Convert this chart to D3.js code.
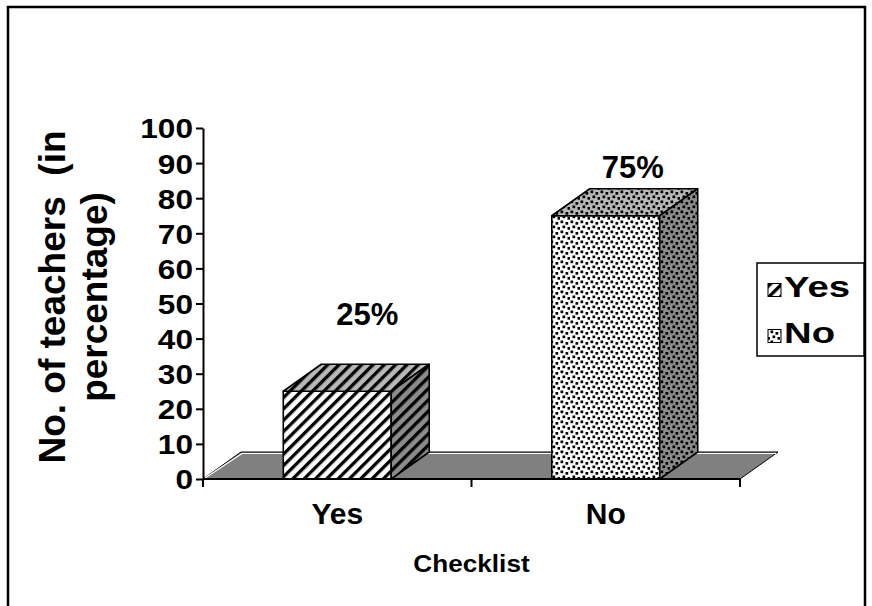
<!DOCTYPE html>
<html><head><meta charset="utf-8">
<script src="https://cdn.jsdelivr.net/npm/d3@7"></script>
<style>
body{margin:0;background:#fff}
svg{display:block}
text{font-family:"Liberation Sans",Arial,sans-serif;font-weight:bold;fill:#000}
</style>
</head><body>
<svg id="c" width="872" height="606"></svg>
<script>
// ---------------- data ----------------
const categories = ["Yes", "No"];
const values = [25, 75];
const valueLabels = ["25%", "75%"];
const yTickValues = [0, 10, 20, 30, 40, 50, 60, 70, 80, 90, 100];
const legendLabels = ["Yes", "No"];
const xTitle = "Checklist";
const yTitleLines = ["No. of teachers  (in", "percentage)"];

// ---------------- layout / style ----------------
const svg = d3.select("#c");
const plot = {left: 203, right: 740, bottom: 479, top: 128};
const depth = {dx: 38, dy: -27};
const labelShift = [{dx: 30, dy: -66}, {dx: 27, dy: -38}];
const patterns = ["url(#stripe)", "url(#dots)"];

const y = d3.scaleLinear().domain([0, 100]).range([plot.bottom, plot.top]);
const x = d3.scaleBand().domain(categories).range([plot.left, plot.right])
  .paddingInner(0.598).paddingOuter(0.299);

function stext(g, px, py, str, fs, sx, anchor) {
  return g.append("text")
    .attr("transform", `translate(${px},${py}) scale(${sx},1)`)
    .attr("text-anchor", anchor || "start")
    .attr("font-size", fs)
    .style("white-space", "pre")
    .text(str);
}

// ---------------- defs ----------------
const defs = svg.append("defs");
const ps = defs.append("pattern").attr("id", "stripe").attr("patternUnits", "userSpaceOnUse")
  .attr("width", 8).attr("height", 8).attr("patternTransform", "rotate(45)");
ps.append("rect").attr("width", 8).attr("height", 8).attr("fill", "#fff");
ps.append("rect").attr("width", 3.3).attr("height", 8).attr("fill", "#000");

const pd = defs.append("pattern").attr("id", "dots").attr("patternUnits", "userSpaceOnUse")
  .attr("width", 10).attr("height", 10);
pd.append("rect").attr("width", 10).attr("height", 10).attr("fill", "#fff");
[[0.5, 0.5], [5.5, 2], [2.5, 5.5], [7.5, 7]].forEach(p =>
  pd.append("rect").attr("x", p[0]).attr("y", p[1]).attr("width", 2.7).attr("height", 2.7).attr("fill", "#000"));

// ---------------- frame ----------------
svg.append("rect").attr("x", 8).attr("y", 7).attr("width", 857).attr("height", 640)
  .attr("fill", "none").attr("stroke", "#000").attr("stroke-width", 2.5);

// ---------------- floor ----------------
const y0 = y(0);
const floorPts = [[plot.left, y0], [plot.right, y0],
  [plot.right + depth.dx, y0 + depth.dy], [plot.left + depth.dx, y0 + depth.dy]];
svg.append("polygon").attr("points", floorPts.map(p => p.join(",")).join(" "))
  .attr("fill", "#808080").attr("stroke", "#000").attr("stroke-width", 1);
svg.append("polyline")
  .attr("points", [[plot.left + 2, y0 - 1], [plot.left + depth.dx + 1, y0 + depth.dy + 1.5], [plot.right + depth.dx - 2, y0 + depth.dy + 1.5]].map(p => p.join(",")).join(" "))
  .attr("fill", "none").attr("stroke", "#fff").attr("stroke-width", 1.2);

// ---------------- bars ----------------
const bars = svg.append("g");
categories.forEach((c, i) => {
  const x0 = x(c), x1 = x(c) + x.bandwidth(), yv = y(values[i]);
  const g = bars.append("g");
  const front = [[x0, yv], [x1, yv], [x1, y0], [x0, y0]];
  const top = [[x0, yv], [x0 + depth.dx, yv + depth.dy], [x1 + depth.dx, yv + depth.dy], [x1, yv]];
  const side = [[x1, yv], [x1 + depth.dx, yv + depth.dy], [x1 + depth.dx, y0 + depth.dy], [x1, y0]];
  [[front, 0], [top, 0.28], [side, 0.45]].forEach(([pts, shade]) => {
    const s = pts.map(p => p.join(",")).join(" ");
    g.append("polygon").attr("points", s).attr("fill", patterns[i]);
    if (shade > 0) g.append("polygon").attr("points", s).attr("fill", "#000").attr("fill-opacity", shade);
    g.append("polygon").attr("points", s).attr("fill", "none").attr("stroke", "#000")
      .attr("stroke-width", 1.6).attr("stroke-linejoin", "round");
  });
  stext(svg, x0 + x.bandwidth() / 2 + labelShift[i].dx, yv + labelShift[i].dy, valueLabels[i], 31, 1, "middle");
});

// ---------------- axes ----------------
const yAxis = svg.append("g").attr("transform", `translate(${plot.left},0)`)
  .call(d3.axisLeft(y).tickValues(yTickValues).tickSize(7).tickSizeOuter(0).tickPadding(3));
yAxis.attr("font-family", null).attr("font-size", null);
yAxis.select(".domain").attr("stroke", "#000").attr("stroke-width", 2);
yAxis.selectAll(".tick line").attr("stroke", "#000").attr("stroke-width", 2);
const tsx = 1.17;
yAxis.selectAll(".tick text")
  .attr("font-size", 27)
  .attr("x", -10 / tsx).attr("dy", "0.37em")
  .attr("transform", `scale(${tsx},1)`);

// category axis line & ticks
const step = x.step();
svg.append("line").attr("x1", plot.left).attr("x2", plot.right).attr("y1", y0).attr("y2", y0)
  .attr("stroke", "#000").attr("stroke-width", 2.2);
d3.range(categories.length + 1).forEach(k => {
  const tx = plot.left + k * step;
  svg.append("line").attr("x1", tx).attr("x2", tx).attr("y1", y0).attr("y2", y0 + 8)
    .attr("stroke", "#000").attr("stroke-width", 2);
});
categories.forEach(c => stext(svg, x(c) + x.bandwidth() / 2, 524, c, 30, 1, "middle"));

// titles
stext(svg, (plot.left + plot.right) / 2, 572, xTitle, 24, 1.09, "middle");
yTitleLines.forEach((t, i) => {
  svg.append("text").attr("transform", `translate(${65 + i * 42},297) rotate(-90)`)
    .attr("text-anchor", "middle").attr("font-size", 37).style("white-space", "pre").text(t);
});

// ---------------- legend ----------------
const lg = svg.append("g");
lg.append("rect").attr("x", 757).attr("y", 263).attr("width", 107).attr("height", 93)
  .attr("fill", "#fff").attr("stroke", "#000").attr("stroke-width", 1.5);
legendLabels.forEach((l, i) => {
  const ly = [297, 343][i];
  lg.append("rect").attr("x", 768).attr("y", ly - 13.5).attr("width", 13).attr("height", 13)
    .attr("fill", patterns[i]).attr("stroke", "#000").attr("stroke-width", 1);
  stext(lg, 784, ly, l, 29, 1.32, "start");
});
</script>
</body></html>
